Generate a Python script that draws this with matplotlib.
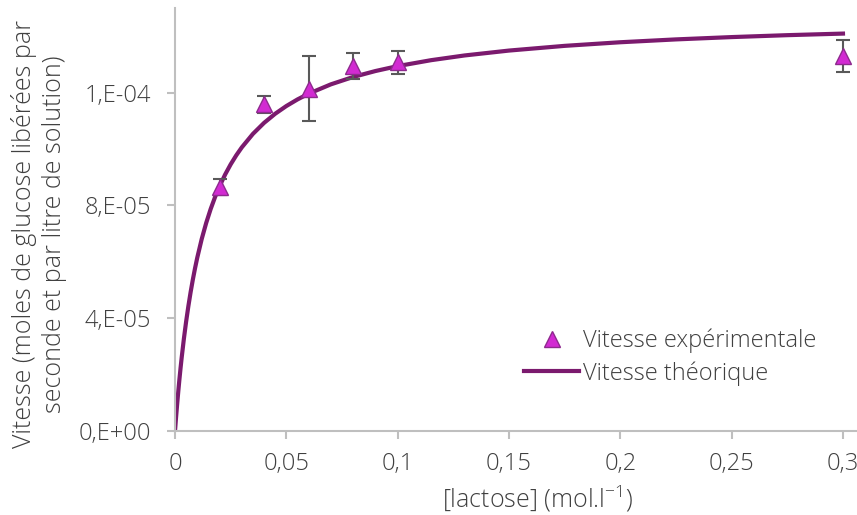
import matplotlib.pyplot as plt
from matplotlib.ticker import FixedLocator, FixedFormatter

plt.rcParams['font.family'] = ['Open Sans', 'DejaVu Sans']
plt.rcParams['font.weight'] = 'light'
plt.rcParams['axes.labelweight'] = 'light'
plt.rcParams['mathtext.default'] = 'regular'

lactose = [0.02, 0.04, 0.06, 0.08, 0.1, 0.3]
vitesse_exp = [8.65e-5, 1.158e-4, 1.213e-4, 1.294e-4, 1.307e-4, 1.329e-4]
erreur = [2.7e-6, 3.0e-6, 1.15e-5, 4.7e-6, 4.2e-6, 5.7e-6]

# theoretical curve
lactose_theo = [0, 0.0005, 0.001, 0.0015, 0.002, 0.0025, 0.003, 0.004, 0.005, 0.006,
                0.007, 0.008, 0.009, 0.01, 0.012, 0.014, 0.016, 0.018, 0.02, 0.0225,
                0.025, 0.0275, 0.03, 0.035, 0.04, 0.045, 0.05, 0.055, 0.06, 0.07,
                0.08, 0.09, 0.1, 0.115, 0.13, 0.15, 0.175, 0.2, 0.225, 0.25,
                0.275, 0.3]
vitesse_theo = [0, 5.09e-6, 9.83e-6, 1.427e-5, 1.844e-5, 2.235e-5, 2.603e-5, 3.278e-5, 3.882e-5, 4.425e-5,
                4.917e-5, 5.364e-5, 5.772e-5, 6.146e-5, 6.808e-5, 7.375e-5, 7.867e-5, 8.297e-5, 8.676e-5, 9.092e-5,
                9.455e-5, 9.774e-5, 1.0057e-4, 1.0536e-4, 1.0926e-4, 1.125e-4, 1.1523e-4, 1.1757e-4, 1.196e-4, 1.2292e-4,
                1.2553e-4, 1.2764e-4, 1.2939e-4, 1.3149e-4, 1.3316e-4, 1.349e-4, 1.3657e-4, 1.3785e-4, 1.3886e-4, 1.3968e-4,
                1.4036e-4, 1.4092e-4]

y_ticks = [0, 4e-5, 8e-5, 1.2e-4]
y_labels = ["0,E+00", "4,E-05", "8,E-05", "1,E-04"]
x_ticks = [0, 0.05, 0.1, 0.15, 0.2, 0.25, 0.3]
x_labels = ["0", "0,05", "0,1", "0,15", "0,2", "0,25", "0,3"]

txt = '#404040'
grey = '#BFBFBF'

fig = plt.figure(figsize=(8.57, 5.15), dpi=100)
ax = fig.add_axes([0.2042, 0.1631, 0.7958, 0.8214])

ax.plot(lactose_theo, vitesse_theo, color='#7B1A6E', lw=3, solid_joinstyle='round',
        label='Vitesse théorique', zorder=2)
ax.errorbar(lactose, vitesse_exp, yerr=erreur, fmt='none', ecolor='#595959',
            elinewidth=1.5, capsize=5, capthick=1.5, zorder=3)
ax.plot(lactose, vitesse_exp, linestyle='none', marker='^', markersize=11,
        markerfacecolor='#D22AD2', markeredgecolor='#8E2A8E', markeredgewidth=1,
        label='Vitesse expérimentale', zorder=4)

ax.set_xlim(0, 0.3063)
ax.set_ylim(0, 1.5e-4)
ax.xaxis.set_major_locator(FixedLocator(x_ticks))
ax.xaxis.set_major_formatter(FixedFormatter(x_labels))
ax.yaxis.set_major_locator(FixedLocator(y_ticks))
ax.yaxis.set_major_formatter(FixedFormatter(y_labels))

for s in ['top', 'right']:
    ax.spines[s].set_visible(False)
for s in ['left', 'bottom']:
    ax.spines[s].set_color(grey)
    ax.spines[s].set_linewidth(1.5)
ax.tick_params(colors=grey, labelcolor=txt, labelsize=17, width=1.5, length=6)
ax.tick_params(axis='x', pad=9)
ax.tick_params(axis='y', pad=11)

ax.set_xlabel("[lactose] (mol.l$^{-1}$)", fontsize=18, color=txt)
ax.set_ylabel("Vitesse (moles de glucose libérées par\nseconde et par litre de solution)",
              fontsize=18, color=txt, linespacing=1.3)
ax.xaxis.set_label_coords(0.531, -0.125)
ax.yaxis.set_label_coords(-0.158, 0.466)

handles, labels = ax.get_legend_handles_labels()
ax.legend(handles[::-1], labels[::-1], loc='lower right', bbox_to_anchor=(0.955, 0.085),
          frameon=False, fontsize=17, labelcolor=txt, handlelength=2.3,
          handletextpad=0.2, borderaxespad=0, labelspacing=0.35)

fig.savefig('out.png', dpi=100)
